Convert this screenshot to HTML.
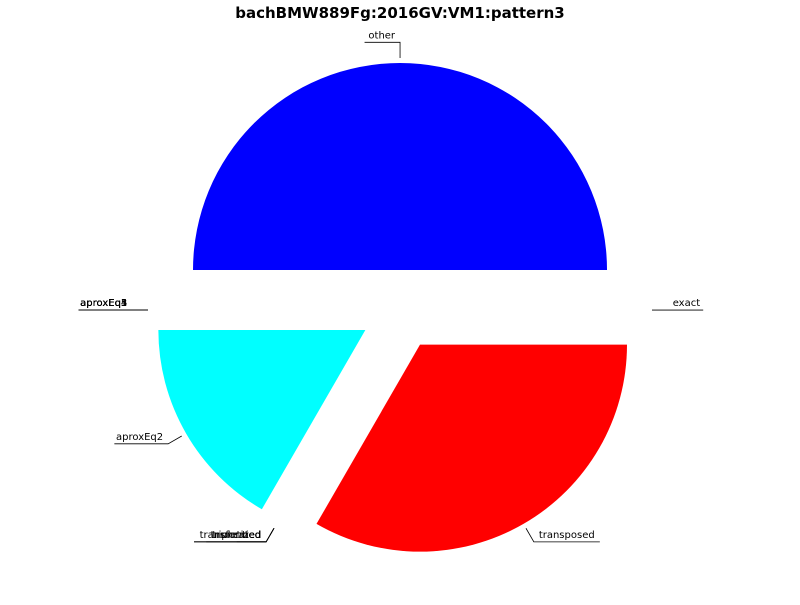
<!DOCTYPE html>
<html><head><meta charset="utf-8"><style>
body{margin:0;background:#fff}
svg text{font-family:"DejaVu Sans","Liberation Sans",sans-serif}
</style></head><body>
<svg id="chart" width="800" height="600">
<text x="400" y="18" text-anchor="middle" font-size="15" font-weight="bold">bachBMW889Fg:2016GV:VM1:pattern3</text>
<g id="slices"></g><g id="labels"></g>
</svg>
<script>
const categories=["transposed","exact","other","aproxEq1","aproxEq3","aproxEq4","aproxEq5","aproxEq2","truncated","tied","tripletized","transformed"];
const values=[33.33,0,50,0,0,0,0,16.67,0,0,0,0];
const colors=["#ff0000","#00ff00","#0000ff","#00ff00","#00ff00","#00ff00","#00ff00","#00ffff","#ff00ff","#ff00ff","#ff00ff","#ff00ff"];
const explode=[40,0,40,0,0,0,0,40,0,0,0,0];
const startAngle=-120;
const cx=400,cy=310,R=207;
const NS="http://www.w3.org/2000/svg";
const gS=document.getElementById('slices'),gL=document.getElementById('labels');
const total=values.reduce((a,b)=>a+b,0);
let a=startAngle;
values.forEach((v,i)=>{
  const sweep=v/total*360,a0=a,a1=a+sweep,mid=(a0+a1)/2;a=a1;
  const rad=d=>d*Math.PI/180;
  const ox=cx+explode[i]*Math.cos(rad(mid)),oy=cy-explode[i]*Math.sin(rad(mid));
  if(v>0){
    const p=document.createElementNS(NS,'path');
    const x0=ox+R*Math.cos(rad(a0)),y0=oy-R*Math.sin(rad(a0)),x1=ox+R*Math.cos(rad(a1)),y1=oy-R*Math.sin(rad(a1));
    p.setAttribute('d',`M${ox},${oy}L${x0},${y0}A${R},${R} 0 ${sweep>180?1:0} 0 ${x1},${y1}Z`);
    p.setAttribute('fill',colors[i]);
    
    
    gS.appendChild(p);
  }
  const c=Math.cos(rad(mid)),s=Math.sin(rad(mid));
  const px=cx+c*(1.1*R+40), py=cy-s*(1.1*R+40);
  const ax=cx+c*(R+45), ay=cy-s*(R+45);
  const right=c>0.01;
  const w=categories[i].length*6.1;
  const t=document.createElementNS(NS,'text');
  t.setAttribute('x',right?px+5:px-5);t.setAttribute('y',py-4);
  t.setAttribute('text-anchor',right?'start':'end');t.setAttribute('font-size','10');
  t.textContent=categories[i];
  
  
  gL.appendChild(t);
  const far=right?px+5+w:px-5-w;
  const l=document.createElementNS(NS,'polyline');
  l.setAttribute('points',`${far},${py} ${px},${py} ${ax},${ay}`);
  l.setAttribute('fill','none');l.setAttribute('stroke','#000');l.setAttribute('stroke-width','0.8');
  
  
  gL.appendChild(l);
});
</script>
</body></html>
